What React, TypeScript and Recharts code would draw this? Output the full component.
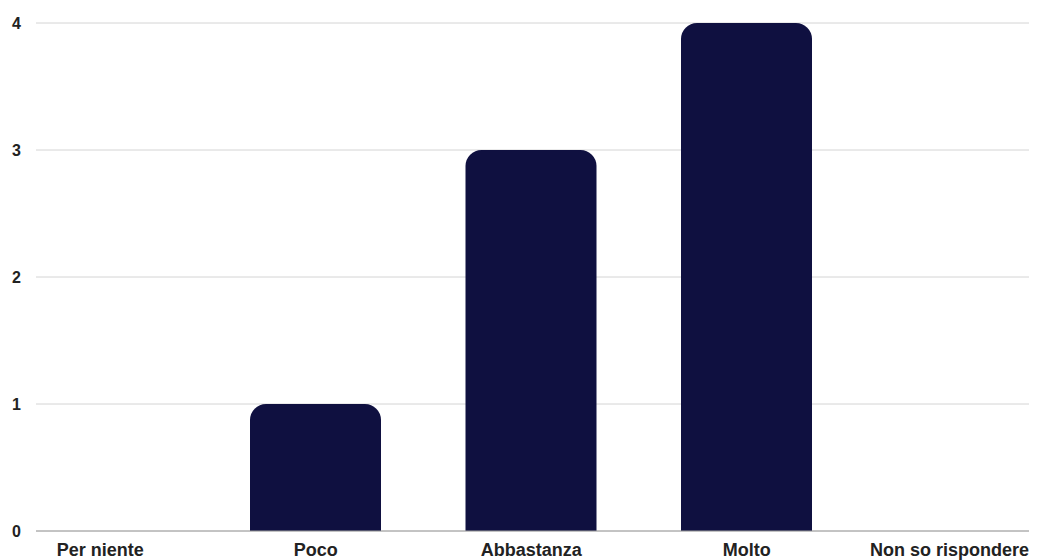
import { BarChart, Bar, XAxis, YAxis, CartesianGrid, ReferenceLine } from 'recharts';

const categories = ['Per niente', 'Poco', 'Abbastanza', 'Molto', 'Non so rispondere'];
const counts = [0, 1, 3, 4, 0];
const yTicks = [0, 1, 2, 3, 4];

const data = categories.map((name, i) => ({ name, value: counts[i] }));

const CHART_W = 1045;
const CHART_H = 560;
const MARGIN = { top: 23, right: 16, left: 0, bottom: 0 };
const PLOT_RIGHT = CHART_W - MARGIN.right;
const FONT = '"Liberation Sans", Arial, sans-serif';

const CategoryTick = ({ x, y, payload, index }: { x?: number; y?: number; payload?: { value: string }; index?: number }) => {
    const last = index === categories.length - 1;
    return (
        <text
            x={last ? PLOT_RIGHT : x}
            y={(y ?? 0) + 25}
            textAnchor={last ? 'end' : 'middle'}
            fill="#222"
            fontSize={18}
            fontWeight="bold"
            fontFamily={FONT}
        >
            {payload?.value}
        </text>
    );
};

export default function App() {
    return (
        <div style={{ position: 'absolute', left: 0, top: 0, background: '#fff' }}>
            <BarChart width={CHART_W} height={CHART_H} data={data} margin={MARGIN} barSize={131}>
                <CartesianGrid vertical={false} stroke="#d4d4d4" />
                <XAxis
                    dataKey="name"
                    axisLine={false}
                    tickLine={false}
                    tickSize={0}
                    tickMargin={0}
                    height={29}
                    interval={0}
                    padding={{ left: -43.5, right: -41 }}
                    tick={<CategoryTick />}
                />
                <YAxis
                    domain={[0, 4]}
                    ticks={yTicks}
                    width={36}
                    axisLine={false}
                    tickLine={false}
                    tickSize={0}
                    tickMargin={15}
                    tick={{ fill: '#222', fontSize: 16, fontWeight: 'bold', fontFamily: FONT }}
                />
                <ReferenceLine y={0} stroke="#9e9e9e" />
                <Bar dataKey="value" fill="#0f1040" radius={[16, 16, 0, 0]} isAnimationActive={false} />
            </BarChart>
        </div>
    );
}
